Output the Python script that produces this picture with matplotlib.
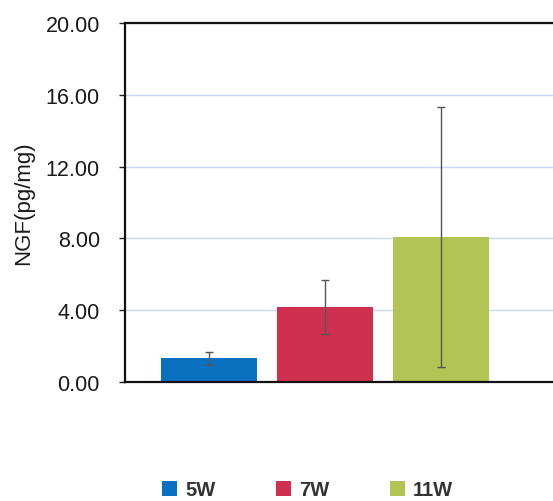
import matplotlib
matplotlib.use("Agg")
import matplotlib.pyplot as plt
from matplotlib.patches import Patch

groups = ["5W", "7W", "11W"]
values = [1.32, 4.18, 8.08]
errors = [0.37, 1.52, 7.27]
colors = ["#0a70c0", "#d0304f", "#b2c454"]
yticks = [0, 4, 8, 12, 16, 20]
ylabels = ["0.00", "4.00", "8.00", "12.00", "16.00", "20.00"]

plt.rcParams['font.family'] = ['Liberation Sans', 'DejaVu Sans']

fig = plt.figure(figsize=(5.53, 5.02), dpi=100)
ax = fig.add_axes([0.226, 0.237, 0.784, 0.715])

x = list(range(len(groups)))
ax.bar(x, values, width=0.83, color=colors, zorder=2)
ax.errorbar(x, values, yerr=errors, fmt="none", ecolor="#555555",
            elinewidth=1.0, capsize=3, capthick=1.0, zorder=3)

ax.set_xlim(-0.724, 3.01)
ax.set_ylim(0, 20)
ax.set_yticks(yticks)
ax.set_yticklabels(ylabels, fontsize=15.5, color="#1a1a1a")
ax.set_xticks([])
ax.yaxis.grid(True, color="#c9d9f0", linewidth=1.0, zorder=0)
ax.tick_params(axis="y", direction="out", length=4, width=1, pad=14, color="#222222")
for s in ["left", "top", "bottom"]:
    ax.spines[s].set_linewidth(1.6)
    ax.spines[s].set_color("#111111")
ax.spines["right"].set_visible(False)
ax.set_ylabel("NGF(pg/mg)", fontsize=16, color="#1a1a1a", labelpad=8)

handles = [Patch(facecolor=c, edgecolor="none") for c in colors]
fig.legend(handles, groups, loc="center", bbox_to_anchor=(0.556, 0.022),
           ncol=3, frameon=False, handlelength=0.75, handleheight=0.75,
           handletextpad=0.4, columnspacing=3.0,
           prop={"size": 14.5, "weight": "bold"}, labelcolor="#333333")

fig.savefig("out.png", dpi=100)
